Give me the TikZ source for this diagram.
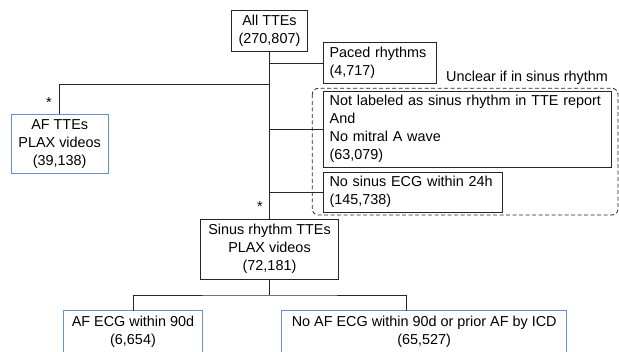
\documentclass[tikz,border=0pt]{standalone}
\usepackage{fontspec}
\setmainfont{Liberation Sans}
\usetikzlibrary{calc}
\definecolor{lncol}{RGB}{38,38,38}
\definecolor{bluecol}{RGB}{100,145,218}
\newcommand{\fsz}{\fontsize{14.4}{18}\selectfont}
\tikzset{
  box/.style={draw=lncol, line width=0.9pt, inner sep=0pt, font=\fsz, align=center},
  lbox/.style={box, align=left, inner xsep=6.5pt},
  bluebox/.style={box, draw=bluecol},
  txt/.style={inner sep=0pt, font=\fsz, align=center},
  conn/.style={draw=lncol, line width=0.9pt},
  dashbox/.style={draw=lncol, line width=0.8pt, dash pattern=on 4pt off 2.5pt, rounded corners=6pt},
  starmark/.style={inner sep=0pt, font=\fsz}
}
\begin{document}
\begin{tikzpicture}[x=1pt, y=-1pt]
\useasboundingbox (0,0) rectangle (619,352);
\clip (0,0) rectangle (619,352);
% dashed group
\draw[dashbox] (312.3,88.3) rectangle (618,215);
\node[txt, anchor=base west] (unclear) at (446,81.5) {Unclear if in sinus rhythm};
% boxes
\node[box, minimum width=75.6pt, minimum height=41.7pt] (all) at (269.5,30.85) {All TTEs\\(270,807)};
\node[lbox, text width=100pt, minimum height=40.6pt] (paced) at (379.5,63) {\mbox{Paced rhythms}\\(4,717)};
\node[bluebox, minimum width=97.3pt, minimum height=59.7pt] (aftte) at (59.7,143.9) {AF TTEs\\PLAX videos\\(39,138)};
\node[lbox, text width=275.3pt, minimum height=75.5pt] (notlab) at (467.3,129.25) {\mbox{Not labeled as sinus rhythm in TTE report}\\And\\\mbox{No mitral A wave}\\(63,079)};
\node[lbox, text width=166pt, minimum height=40.5pt] (nosinus) at (412.5,192.25) {\mbox{No sinus ECG within 24h}\\(145,738)};
\node[box, minimum width=138pt, minimum height=60pt] (sinus) at (269.5,249) {Sinus rhythm TTEs\\PLAX videos\\(72,181)};
\node[txt, anchor=north, minimum width=139.4pt, inner ysep=5pt] (afecg) at (133,310.7) {AF ECG within 90d\\(6,654)};
\draw[draw=bluecol, line width=0.9pt] (afecg.north west) rectangle ([yshift=-20pt]afecg.south east);
\node[txt, anchor=north, minimum width=285pt, inner ysep=5pt] (noaf) at (424.2,310.7) {No AF ECG within 90d or prior AF by ICD\\(65,527)};
\draw[draw=bluecol, line width=0.9pt] (noaf.north west) rectangle ([yshift=-20pt]noaf.south east);
% stars
\node[starmark] (star1) at (49,102.5) {*};
\node[starmark] (star2) at (260,206.5) {*};
% connectors
\coordinate (lj) at (269.5,84.3);
\coordinate (bj) at (269.5,295);
\coordinate (nd) at (406.7,310.7);
\draw[conn] (all.south) -- (sinus.north);
\draw[conn] (all.south |- paced.west) -- (paced.west);
\draw[conn] (lj) -| (aftte.north);
\draw[conn] (all.south |- notlab.west) -- (notlab.west);
\draw[conn] (all.south |- nosinus.west) -- (nosinus.west);
\draw[conn] (sinus.south) -- (bj);
\draw[conn] (afecg.north) |- (bj) -| (nd);
\end{tikzpicture}
\end{document}
